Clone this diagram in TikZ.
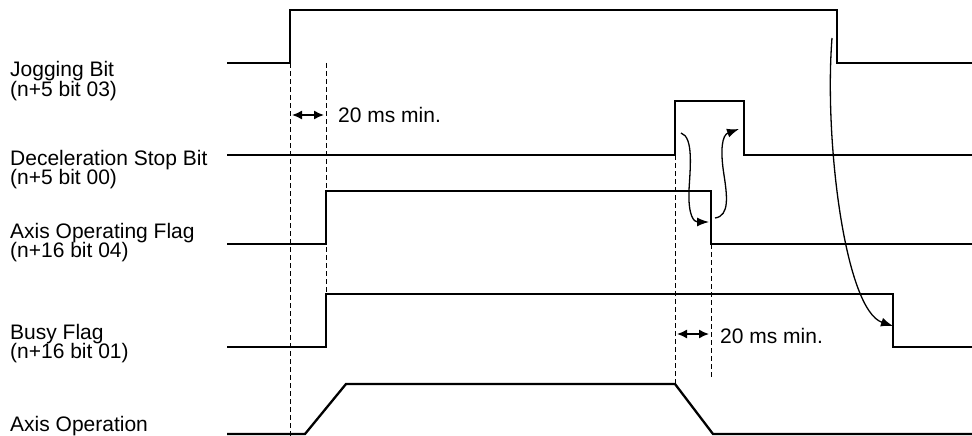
\documentclass[tikz,border=0pt]{standalone}
\usepackage{fontspec}
\setmainfont{Liberation Sans}
\usetikzlibrary{arrows.meta}
\begin{document}
\begin{tikzpicture}[x=1pt,y=-1pt,
  sig/.style={line width=2.3pt, line join=miter},
  guide/.style={line width=0.9pt, dash pattern=on 5pt off 3pt},
  lbl/.style={anchor=base west, inner sep=0pt, font=\fontsize{21}{22}\selectfont},
  dimarrow/.style={line width=1.5pt, {Latex[length=10pt,width=9pt]}-{Latex[length=10pt,width=9pt]}},
  cause/.style={line width=1.3pt, -{Latex[length=12pt,width=9pt]}}]
\useasboundingbox (0,0) rectangle (972,436);

% guide lines
\draw[guide] (290,63) -- (290,436);
\draw[guide] (326,63) -- (326,347);
\draw[guide] (675,155) -- (675,383);
\draw[guide] (711,244) -- (711,378);

% signals
\draw[sig] (227,63) -- (290,63) -- (290,10) -- (837,10) -- (837,63) -- (972,63);
\draw[sig] (227,155) -- (675,155) -- (675,101) -- (744,101) -- (744,155) -- (972,155);
\draw[sig] (227,244) -- (326,244) -- (326,191) -- (711,191) -- (711,244) -- (972,244);
\draw[sig] (227,347) -- (326,347) -- (326,294) -- (893,294) -- (893,347) -- (972,347);
\draw[sig] (227,434) -- (305,434) -- (346,384) -- (675,384) -- (713,434) -- (972,434);

% labels
\node[lbl] (l1a) at (10,77) {Jogging Bit};
\node[lbl] (l1b) at (10,96) {(n+5 bit 03)};
\node[lbl] (l2a) at (10,165) {Deceleration Stop Bit};
\node[lbl] (l2b) at (10,184) {(n+5 bit 00)};
\node[lbl] (l3a) at (10,238) {Axis Operating Flag};
\node[lbl] (l3b) at (10,257) {(n+16 bit 04)};
\node[lbl] (l4a) at (10,339) {Busy Flag};
\node[lbl] (l4b) at (10,358) {(n+16 bit 01)};
\node[lbl] (l5a) at (10,431) {Axis Operation};

% 20 ms dimensions
\coordinate (d1a) at (292,115);
\coordinate (d1b) at (324,115);
\draw[dimarrow] (d1a) -- (d1b);
\node[lbl] (t1) at (338,122) {20 ms min.};
\coordinate (d2a) at (677,334);
\coordinate (d2b) at (709,334);
\draw[dimarrow] (d2a) -- (d2b);
\node[lbl] (t2) at (720,343) {20 ms min.};

% cause arrows
\coordinate (c1s) at (681,133);
\coordinate (c1e) at (709,222);
\draw[cause] (c1s) .. controls (694,137) and (690,170) .. (689,190)
  .. controls (688,216) and (694,222) .. (c1e);
\coordinate (c2s) at (715,218);
\coordinate (c2e) at (739,129);
\draw[cause] (c2s) .. controls (730,216) and (727,195) .. (724,175)
  .. controls (720,150) and (722,135) .. (c2e);
\coordinate (c3s) at (832,38);
\coordinate (c3e) at (893,326);
\draw[cause] (c3s) .. controls (824,140) and (845,310) .. (c3e);
\end{tikzpicture}
\end{document}
